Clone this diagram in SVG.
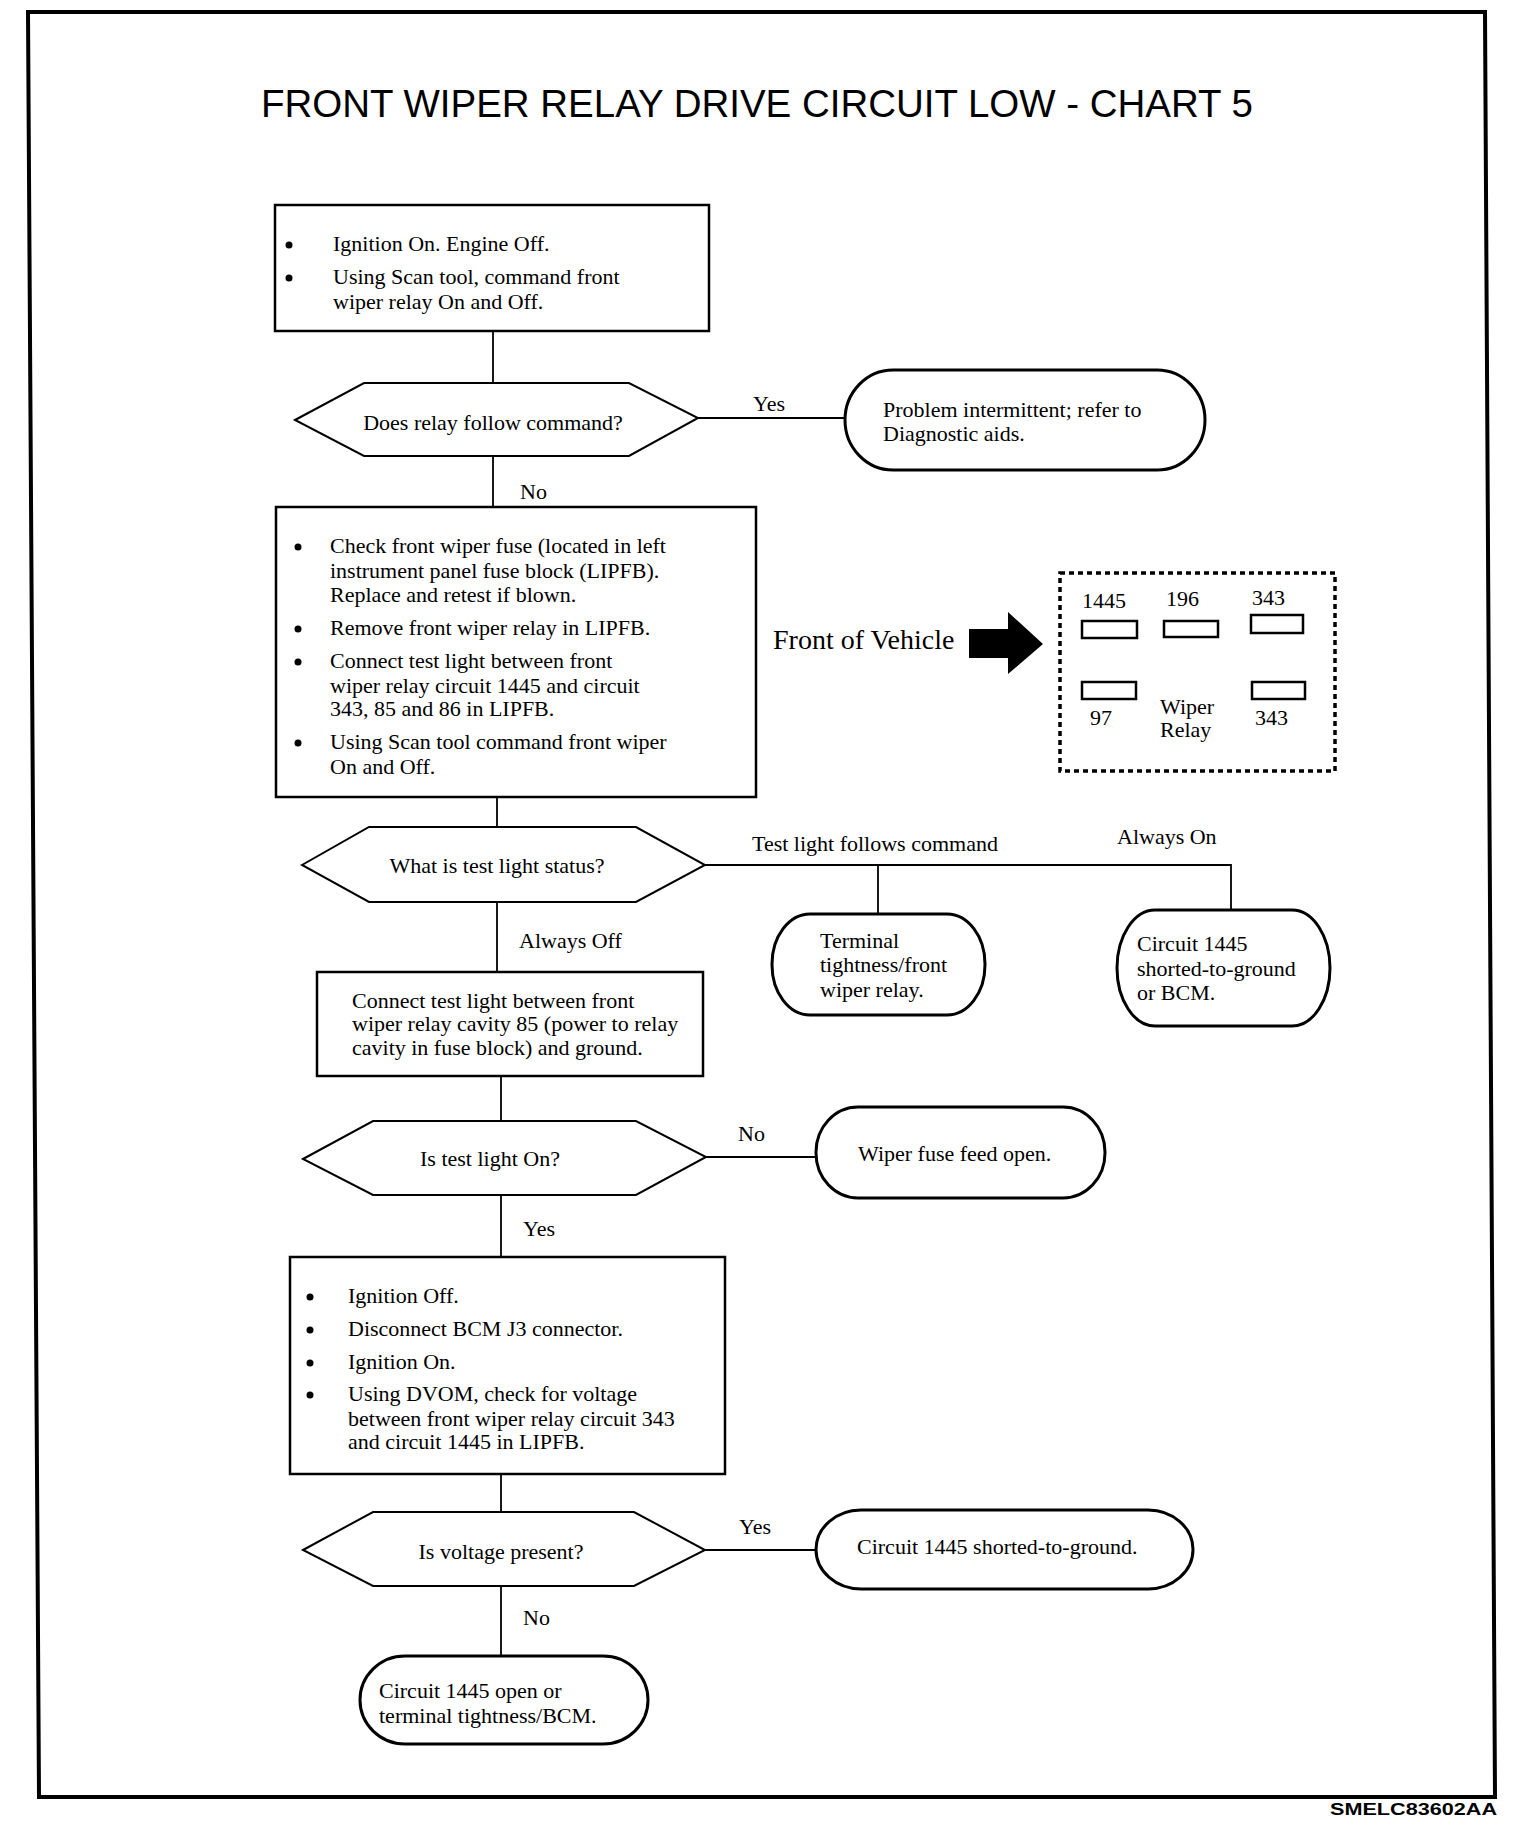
<svg xmlns="http://www.w3.org/2000/svg" width="1536" height="1842" viewBox="0 0 1536 1842">
<defs>
<style>
.box{fill:#fff;stroke:#000;stroke-width:2.5}
.term{fill:#fff;stroke:#000;stroke-width:3}
.dia{fill:#fff;stroke:#000;stroke-width:2}
.ln{fill:none;stroke:#000;stroke-width:1.8}
.t{font-family:"Liberation Serif","Times New Roman",serif;font-size:22px;fill:#000}
.c{text-anchor:middle}
.slot{fill:#fff;stroke:#000;stroke-width:2.5}
.dot{fill:#000}
</style>
</defs>
<rect width="1536" height="1842" fill="#fff"/>
<polygon points="28,12 1485,12 1495,1797 39,1797" fill="none" stroke="#000" stroke-width="4"/>
<text x="757" y="117" text-anchor="middle" font-family="Liberation Sans, Arial, sans-serif" font-size="38" textLength="992" lengthAdjust="spacingAndGlyphs">FRONT WIPER RELAY DRIVE CIRCUIT LOW - CHART 5</text>

<g id="connectors">
<line class="ln" x1="493" y1="331" x2="493" y2="383"/>
<line class="ln" x1="698" y1="418" x2="845" y2="418"/>
<line class="ln" x1="493" y1="456" x2="493" y2="507"/>
<line class="ln" x1="497" y1="797" x2="497" y2="827"/>
<polyline class="ln" points="705,865 1231,865 1231,910"/>
<line class="ln" x1="878" y1="865" x2="878" y2="914"/>
<line class="ln" x1="497" y1="902" x2="497" y2="972"/>
<line class="ln" x1="501" y1="1076" x2="501" y2="1121"/>
<line class="ln" x1="706" y1="1157" x2="818" y2="1157"/>
<line class="ln" x1="501" y1="1195" x2="501" y2="1257"/>
<line class="ln" x1="501" y1="1474" x2="501" y2="1512"/>
<line class="ln" x1="705" y1="1550" x2="818" y2="1550"/>
<line class="ln" x1="501" y1="1586" x2="501" y2="1656"/>
<text class="t" x="753" y="411">Yes</text>
<text class="t" x="520" y="499">No</text>
<text class="t" x="752" y="851">Test light follows command</text>
<text class="t" x="1117" y="844">Always On</text>
<text class="t" x="519" y="948">Always Off</text>
<text class="t" x="738" y="1141">No</text>
<text class="t" x="523" y="1236">Yes</text>
<text class="t" x="739" y="1534">Yes</text>
<text class="t" x="523" y="1625">No</text>
</g>

<g id="box1">
<rect class="box" x="275" y="205" width="434" height="126"/>
<circle class="dot" cx="289" cy="245" r="3.5"/>
<text class="t" x="333" y="251">Ignition On. Engine Off.</text>
<circle class="dot" cx="289" cy="278" r="3.5"/>
<text class="t" x="333" y="284">Using Scan tool, command front</text>
<text class="t" x="333" y="309">wiper relay On and Off.</text>
</g>

<g id="decision1">
<polygon class="dia" points="295,420 364,383 629,383 698,418 629,456 364,456"/>
<text class="t c" x="493" y="430">Does relay follow command?</text>
</g>

<g id="end1">
<rect class="term" x="845" y="370" width="360" height="100" rx="48" ry="50"/>
<text class="t" x="883" y="417">Problem intermittent; refer to</text>
<text class="t" x="883" y="441">Diagnostic aids.</text>
</g>

<g id="box2">
<rect class="box" x="276" y="507" width="480" height="290"/>
<circle class="dot" cx="298" cy="547" r="3.5"/>
<text class="t" x="330" y="553">Check front wiper fuse (located in left</text>
<text class="t" x="330" y="578">instrument panel fuse block (LIPFB).</text>
<text class="t" x="330" y="602">Replace and retest if blown.</text>
<circle class="dot" cx="298" cy="629" r="3.5"/>
<text class="t" x="330" y="635">Remove front wiper relay in LIPFB.</text>
<circle class="dot" cx="298" cy="662" r="3.5"/>
<text class="t" x="330" y="668">Connect test light between front</text>
<text class="t" x="330" y="693">wiper relay circuit 1445 and circuit</text>
<text class="t" x="330" y="716">343, 85 and 86 in LIPFB.</text>
<circle class="dot" cx="298" cy="743" r="3.5"/>
<text class="t" x="330" y="749">Using Scan tool command front wiper</text>
<text class="t" x="330" y="774">On and Off.</text>
</g>

<g id="relay-view">
<text class="t" x="773" y="649" style="font-size:28px">Front of Vehicle</text>
<polygon points="969,629 1008,629 1008,612 1043,644 1008,674 1008,658 969,658" fill="#000"/>
<rect x="1060" y="573" width="275" height="198" fill="none" stroke="#000" stroke-width="3.5" stroke-dasharray="5,4"/>
<rect class="slot" x="1082" y="621" width="55" height="17"/>
<rect class="slot" x="1164" y="621" width="54" height="16"/>
<rect class="slot" x="1251" y="615" width="52" height="18"/>
<rect class="slot" x="1082" y="682" width="54" height="17"/>
<rect class="slot" x="1252" y="682" width="53" height="17"/>
<text class="t" x="1082" y="608">1445</text>
<text class="t" x="1166" y="606">196</text>
<text class="t" x="1252" y="605">343</text>
<text class="t" x="1090" y="725">97</text>
<text class="t" x="1160" y="714">Wiper</text>
<text class="t" x="1160" y="737">Relay</text>
<text class="t" x="1255" y="725">343</text>
</g>

<g id="decision2">
<polygon class="dia" points="302,865 369,827 636,827 705,865 636,902 369,902"/>
<text class="t c" x="497" y="873">What is test light status?</text>
</g>

<g id="end2">
<rect class="term" x="772" y="914" width="213" height="101" rx="38" ry="50"/>
<text class="t" x="820" y="948">Terminal</text>
<text class="t" x="820" y="972">tightness/front</text>
<text class="t" x="820" y="997">wiper relay.</text>
</g>

<g id="end3">
<rect class="term" x="1117" y="910" width="213" height="116" rx="38" ry="58"/>
<text class="t" x="1137" y="951">Circuit 1445</text>
<text class="t" x="1137" y="976">shorted-to-ground</text>
<text class="t" x="1137" y="1000">or BCM.</text>
</g>

<g id="box3">
<rect class="box" x="317" y="972" width="386" height="104"/>
<text class="t" x="352" y="1008">Connect test light between front</text>
<text class="t" x="352" y="1031">wiper relay cavity 85 (power to relay</text>
<text class="t" x="352" y="1055">cavity in fuse block) and ground.</text>
</g>

<g id="decision3">
<polygon class="dia" points="303,1159 373,1121 636,1121 706,1157 636,1195 373,1195"/>
<text class="t c" x="490" y="1166">Is test light On?</text>
</g>

<g id="end4">
<rect class="term" x="816" y="1107" width="289" height="91" rx="42" ry="45"/>
<text class="t" x="858" y="1161">Wiper fuse feed open.</text>
</g>

<g id="box4">
<rect class="box" x="290" y="1257" width="435" height="217"/>
<circle class="dot" cx="310" cy="1297" r="3.5"/>
<text class="t" x="348" y="1303">Ignition Off.</text>
<circle class="dot" cx="310" cy="1330" r="3.5"/>
<text class="t" x="348" y="1336">Disconnect BCM J3 connector.</text>
<circle class="dot" cx="310" cy="1363" r="3.5"/>
<text class="t" x="348" y="1369">Ignition On.</text>
<circle class="dot" cx="310" cy="1395" r="3.5"/>
<text class="t" x="348" y="1401">Using DVOM, check for voltage</text>
<text class="t" x="348" y="1426">between front wiper relay circuit 343</text>
<text class="t" x="348" y="1449">and circuit 1445 in LIPFB.</text>
</g>

<g id="decision4">
<polygon class="dia" points="303,1550 373,1512 634,1512 705,1550 634,1586 373,1586"/>
<text class="t c" x="501" y="1559">Is voltage present?</text>
</g>

<g id="end5">
<rect class="term" x="816" y="1510" width="377" height="79" rx="45" ry="40"/>
<text class="t" x="857" y="1554">Circuit 1445 shorted-to-ground.</text>
</g>

<g id="end6">
<rect class="term" x="360" y="1656" width="288" height="88" rx="45" ry="44"/>
<text class="t" x="379" y="1698">Circuit 1445 open or</text>
<text class="t" x="379" y="1723">terminal tightness/BCM.</text>
</g>

<text x="1330" y="1815" font-family="Liberation Sans, Arial, sans-serif" font-size="17" font-weight="bold" textLength="167" lengthAdjust="spacingAndGlyphs">SMELC83602AA</text>
</svg>
